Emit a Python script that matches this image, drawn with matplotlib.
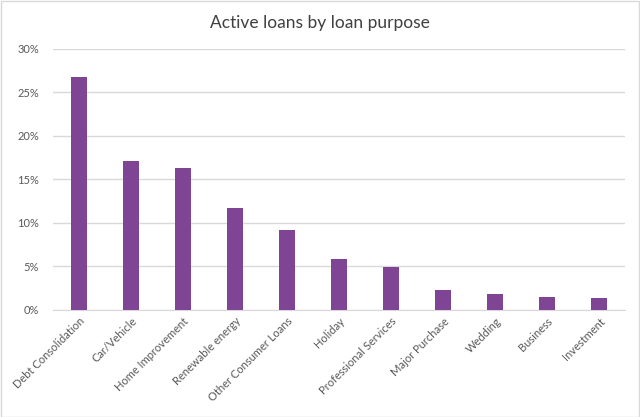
import matplotlib.pyplot as plt
from matplotlib.ticker import PercentFormatter

purposes = ["Debt Consolidation", "Car/Vehicle", "Home Improvement", "Renewable energy",
            "Other Consumer Loans", "Holiday", "Professional Services", "Major Purchase",
            "Wedding", "Business", "Investment"]
share = [26.8, 17.1, 16.3, 11.7, 9.2, 5.9, 4.95, 2.3, 1.85, 1.5, 1.4]

plt.rcParams['font.family'] = ['Lato', 'DejaVu Sans']

fig = plt.figure(figsize=(6.4, 4.17), dpi=100)
ax = fig.add_axes([0.0828, 0.2566, 0.894, 0.626])

x = range(len(purposes))
ax.bar(x, share, width=0.31, color='#7F4493', zorder=3)

ax.set_xlim(-0.5, len(purposes) - 0.5)
ax.set_ylim(0, 30)
ax.set_yticks(range(0, 31, 5))
ax.yaxis.set_major_formatter(PercentFormatter(decimals=0))
ax.grid(axis='y', color='#D9D9D9', linewidth=1, zorder=0)
for s in ['top', 'right', 'left']:
    ax.spines[s].set_visible(False)
ax.spines['bottom'].set_color('#D9D9D9')
ax.tick_params(length=0, colors='#595959', labelsize=8)
ax.tick_params(axis='y', pad=10)
ax.tick_params(axis='x', pad=4)
ax.set_xticks(list(x))
ax.set_xticklabels(purposes, rotation=45, ha='right', rotation_mode='anchor')

fig.text(0.5, 0.945, "Active loans by loan purpose", ha='center', va='center',
         fontsize=12.5, color='#404040')

# light frame round the chart area
fig.patches.append(plt.Rectangle((0.001, 0.001), 0.997, 0.997, transform=fig.transFigure,
                                 fill=False, edgecolor='#D9D9D9', linewidth=1))

fig.savefig('out.png', dpi=100)
